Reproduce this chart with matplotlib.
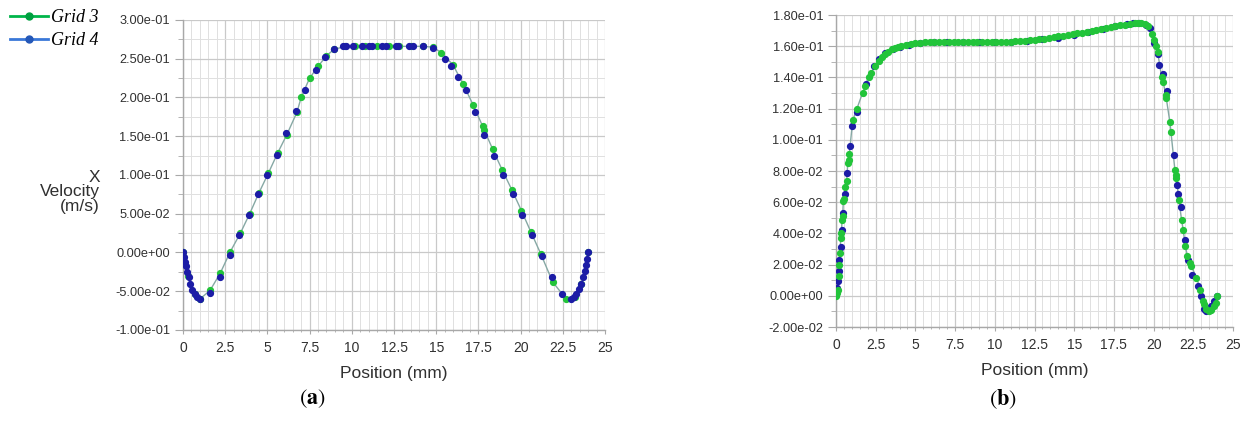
import matplotlib
matplotlib.use("Agg")
import matplotlib.pyplot as plt
from matplotlib.ticker import MultipleLocator, FixedLocator, FuncFormatter
from matplotlib.lines import Line2D

# ---------------- data ----------------
# Panel (a)
a_g4_x = [0.0, 0.05, 0.1, 0.17, 0.25, 0.33, 0.42, 0.55, 0.7, 0.85, 1.0, 1.6, 2.18, 2.76,
          3.34, 3.9, 4.46, 5.0, 5.54, 6.1, 6.68, 7.25, 7.85, 8.4, 8.95, 9.45, 9.65, 10.1,
          10.6, 11.0, 11.2, 11.8, 12.0, 12.6, 12.75, 13.4, 13.6, 14.2, 14.8, 15.5, 15.9,
          16.3, 16.75, 17.3, 17.85, 18.45, 18.95, 19.55, 20.1, 20.65, 21.25, 21.85, 22.45,
          23.0, 23.15, 23.3, 23.45, 23.58, 23.7, 23.8, 23.88, 23.95, 24.0]
a_g4_y = [0.0, -0.006, -0.012, -0.018, -0.025, -0.032, -0.040, -0.048, -0.054, -0.058,
          -0.060, -0.052, -0.031, -0.003, 0.023, 0.049, 0.075, 0.100, 0.126, 0.154, 0.183,
          0.210, 0.236, 0.252, 0.262, 0.266, 0.266, 0.266, 0.266, 0.266, 0.266, 0.266,
          0.266, 0.266, 0.266, 0.266, 0.266, 0.266, 0.264, 0.250, 0.240, 0.226, 0.210,
          0.181, 0.152, 0.125, 0.100, 0.075, 0.049, 0.023, -0.005, -0.032, -0.054, -0.060,
          -0.058, -0.054, -0.047, -0.040, -0.032, -0.024, -0.016, -0.008, 0.0]
a_g3_x = [0.0, 0.3, 0.7, 1.0, 1.6, 2.2, 2.8, 3.4, 3.95, 4.5, 5.05, 5.6, 6.15, 6.75, 7.0,
          7.5, 8.0, 8.5, 8.95, 9.6, 10.2, 10.8, 11.5, 12.2, 12.8, 13.5, 14.2, 14.8, 15.3,
          16.0, 16.6, 17.2, 17.75, 17.85, 18.35, 18.9, 19.5, 20.05, 20.6, 21.2, 21.9, 22.7,
          23.2, 23.6, 24.0]
a_g3_y = [0.0, -0.030, -0.054, -0.060, -0.049, -0.027, 0.001, 0.025, 0.050, 0.077, 0.102,
          0.128, 0.152, 0.181, 0.200, 0.225, 0.240, 0.254, 0.262, 0.266, 0.266, 0.266,
          0.266, 0.266, 0.266, 0.266, 0.266, 0.265, 0.258, 0.242, 0.217, 0.190, 0.163,
          0.158, 0.133, 0.107, 0.080, 0.054, 0.027, -0.002, -0.038, -0.060, -0.057, -0.040,
          0.0]

# Panel (b)
b_g4_x = [0.0, 0.05, 0.1, 0.17, 0.21, 0.29, 0.36, 0.46, 0.54, 0.67, 0.9, 1.0, 1.32, 1.88,
          2.4, 2.7, 3.1, 3.6, 4.0, 4.6, 5.3, 6.2, 7.0, 8.0, 9.0, 10.0, 11.0, 12.0, 13.0,
          14.0, 15.0, 15.9, 16.8, 17.6, 18.3, 18.7, 19.1, 19.5, 19.75, 20.04, 20.3, 20.35,
          20.6, 20.85, 21.28, 21.5, 21.55, 21.7, 22.0, 22.18, 22.43, 22.8, 23.0, 23.2,
          23.3, 23.45, 23.6, 23.8, 24.0]
b_g4_y = [0.002, 0.005, 0.0094, 0.0158, 0.023, 0.031, 0.042, 0.053, 0.065, 0.079, 0.096,
          0.109, 0.1177, 0.136, 0.147, 0.152, 0.1555, 0.158, 0.1595, 0.161, 0.162, 0.1628,
          0.163, 0.163, 0.163, 0.1628, 0.1628, 0.1635, 0.1645, 0.1655, 0.1675, 0.169,
          0.171, 0.173, 0.1745, 0.175, 0.175, 0.1735, 0.1715, 0.162, 0.155, 0.148, 0.1425,
          0.1315, 0.0904, 0.071, 0.065, 0.057, 0.036, 0.023, 0.0136, 0.006, 0.0, -0.0085,
          -0.0098, -0.009, -0.0065, -0.0035, 0.0]
b_g3_x = [0.0, 0.06, 0.12, 0.17, 0.21, 0.25, 0.3, 0.34, 0.38, 0.42, 0.46, 0.5, 0.58, 0.67,
          0.74, 0.8, 0.84, 1.05, 1.32, 1.67, 1.84, 2.05, 2.2, 2.47, 2.68, 2.9, 3.1, 3.3,
          3.5, 3.7, 3.9, 4.1, 4.4, 4.7, 5.0, 5.3, 5.6, 5.9, 6.2, 6.5, 6.8, 7.1, 7.4, 7.7,
          8.0, 8.3, 8.6, 8.9, 9.2, 9.5, 9.8, 10.1, 10.4, 10.7, 11.0, 11.3, 11.6, 11.9,
          12.2, 12.5, 12.8, 13.1, 13.4, 13.7, 14.0, 14.3, 14.6, 14.9, 15.2, 15.5, 15.8,
          16.1, 16.4, 16.7, 17.0, 17.3, 17.6, 17.9, 18.2, 18.5, 18.8, 19.0, 19.2, 19.45,
          19.67, 19.87, 20.04, 20.15, 20.25, 20.5, 20.6, 20.77, 20.8, 21.02, 21.09, 21.34,
          21.38, 21.44, 21.59, 21.76, 21.86, 22.0, 22.13, 22.28, 22.38, 22.7, 22.95, 23.1,
          23.2, 23.3, 23.47, 23.64, 23.8, 23.9, 24.0]
b_g3_y = [0.0, 0.002, 0.004, 0.0126, 0.020, 0.0275, 0.037, 0.040, 0.0488, 0.051, 0.0605,
          0.062, 0.070, 0.0733, 0.085, 0.0872, 0.091, 0.1124, 0.120, 0.130, 0.1345, 0.1405,
          0.143, 0.147, 0.1505, 0.153, 0.155, 0.1565, 0.158, 0.159, 0.1595, 0.160, 0.1607,
          0.1613, 0.1618, 0.1621, 0.1624, 0.1626, 0.1628, 0.1629, 0.163, 0.163, 0.163,
          0.163, 0.163, 0.163, 0.163, 0.1629, 0.1628, 0.1628, 0.1628, 0.1628, 0.1628,
          0.1629, 0.163, 0.1631, 0.1633, 0.1635, 0.1638, 0.1641, 0.1645, 0.1649, 0.1654,
          0.1659, 0.1664, 0.1668, 0.1672, 0.1677, 0.1682, 0.1687, 0.1692, 0.1697, 0.1703,
          0.1709, 0.1715, 0.1721, 0.1727, 0.1733, 0.1739, 0.1745, 0.1749, 0.1749, 0.1747,
          0.1740, 0.1730, 0.1680, 0.1640, 0.1600, 0.1565, 0.1405, 0.1370, 0.1288, 0.1266,
          0.1117, 0.1053, 0.0808, 0.0776, 0.0755, 0.0616, 0.0488, 0.0424, 0.0318, 0.0254,
          0.0211, 0.0190, 0.0115, 0.0040, -0.0034, -0.0055, -0.0087, -0.0098, -0.0092,
          -0.0066, -0.0045, 0.0]

x_ticks = [0, 2.5, 5, 7.5, 10, 12.5, 15, 17.5, 20, 22.5, 25]
x_ticklabels = ["0", "2.5", "5", "7.5", "10", "12.5", "15", "17.5", "20", "22.5", "25"]
a_yticks = [-0.10, -0.05, 0.0, 0.05, 0.10, 0.15, 0.20, 0.25, 0.30]
b_yticks = [-0.02, 0.0, 0.02, 0.04, 0.06, 0.08, 0.10, 0.12, 0.14, 0.16, 0.18]

series_names = ["Grid 3", "Grid 4"]

# ---------------- styling ----------------
plt.rcParams["font.family"] = ["Liberation Sans", "DejaVu Sans"]
W, H = 1256, 421
fig = plt.figure(figsize=(W / 100, H / 100), dpi=100)
fig.patch.set_facecolor("white")

GREEN = "#22c43a"
BLUE = "#1c1ca6"
LINE = "#86a8a4"
PX = 0.72  # points per pixel at 100 dpi

def style_axes(ax, yticks, yminor):
    ax.set_xlim(0, 25)
    ax.set_ylim(yticks[0], yticks[-1])
    ax.xaxis.set_major_locator(FixedLocator(x_ticks))
    ax.set_xticklabels(x_ticklabels)
    ax.xaxis.set_minor_locator(MultipleLocator(0.5))
    ax.yaxis.set_major_locator(FixedLocator(yticks))
    ax.yaxis.set_minor_locator(MultipleLocator(yminor))
    ax.yaxis.set_major_formatter(FuncFormatter(lambda v, p: f"{v:.2e}"))
    ax.grid(which="major", color="#c9c9c9", lw=0.9)
    ax.grid(which="minor", color="#e0e0e0", lw=0.7)
    ax.set_axisbelow(True)
    for s in ("top", "right"):
        ax.spines[s].set_visible(False)
    for s in ("left", "bottom"):
        ax.spines[s].set_color("#a8a8a8")
        ax.spines[s].set_linewidth(1.0)
    ax.tick_params(which="both", direction="out", color="#a8a8a8", labelcolor="#303030")
    ax.tick_params(axis="y", which="major", length=8 * PX, pad=5 * PX, labelsize=9.2)
    ax.tick_params(axis="y", which="minor", length=5 * PX)
    ax.tick_params(axis="x", which="major", length=4 * PX, pad=7 * PX, labelsize=10)
    ax.tick_params(axis="x", which="minor", length=2.5 * PX)
    ax.set_xlabel("Position (mm)", fontsize=12.5, color="#303030", labelpad=8)

# Panel (a)
ax1 = fig.add_axes([183 / W, 1 - 330 / H, (605 - 183) / W, (330 - 20) / H])
style_axes(ax1, a_yticks, 0.025)
ax1.plot(a_g3_x, a_g3_y, color=LINE, lw=1.0, zorder=2)
ax1.plot(a_g3_x, a_g3_y, ls="none", marker="o", ms=4.2, mfc=GREEN, mec=GREEN, zorder=3)
ax1.plot(a_g4_x, a_g4_y, ls="none", marker="o", ms=4.2, mfc=BLUE, mec=BLUE, zorder=4)

# Panel (b)
ax2 = fig.add_axes([836 / W, 1 - 327 / H, (1233 - 836) / W, (327 - 15) / H])
style_axes(ax2, b_yticks, 0.01)
ax2.plot(b_g3_x, b_g3_y, color=LINE, lw=1.0, zorder=2)
ax2.plot(b_g4_x, b_g4_y, ls="none", marker="o", ms=4.2, mfc=BLUE, mec=BLUE, zorder=3)
ax2.plot(b_g3_x, b_g3_y, ls="none", marker="o", ms=4.2, mfc=GREEN, mec=GREEN, zorder=4)

# y label of panel (a)
fig.text(100 / W, 1 - 192 / H, "X\nVelocity\n(m/s)", ha="right", va="center",
         multialignment="right", fontsize=12.5, color="#303030", linespacing=0.95)

# legend
handles = [Line2D([], [], color="#00b54a", lw=2, marker="o", ms=5, mfc="#00a040", mec="#00a040"),
           Line2D([], [], color="#3a78d8", lw=2, marker="o", ms=5, mfc="#2458b8", mec="#2458b8")]
fig.legend(handles, series_names, loc="upper left", bbox_to_anchor=(5 / W, 1 - 4 / H),
           frameon=False, handlelength=2.1, handletextpad=0.15, labelspacing=0.3,
           borderaxespad=0.0, borderpad=0.3,
           prop={"family": ["Liberation Serif", "DejaVu Serif"], "style": "italic", "size": 13})

# panel letters
fig.text(312 / W, 1 - 399 / H, r"$(\mathbf{a})$", ha="center", va="center",
         fontsize=16, math_fontfamily="stix")
fig.text(1003 / W, 1 - 399 / H, r"$(\mathbf{b})$", ha="center", va="center",
         fontsize=16, math_fontfamily="stix")

fig.savefig("out.png", dpi=100, facecolor="white")
